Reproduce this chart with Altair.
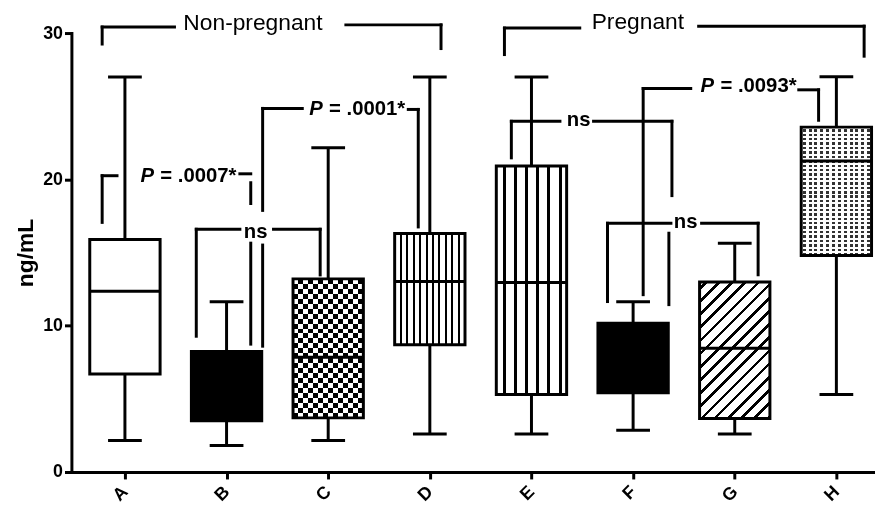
import json
import math
import altair as alt
import pandas as pd

# ---------------- data (ng/mL) ----------------
categories = ["A", "B", "C", "D", "E", "F", "G", "H"]
whisker_low = [2.15, 1.81, 2.15, 2.59, 2.59, 2.86, 2.59, 5.30]
box_low = [6.70, 3.50, 3.70, 8.69, 5.30, 5.42, 3.66, 14.80]
medians = [12.35, 5.80, 7.84, 13.02, 12.95, 7.80, 8.46, 21.26]
box_high = [15.89, 8.24, 13.20, 16.30, 20.92, 10.16, 12.98, 23.57]
whisker_high = [27.00, 11.63, 22.16, 27.00, 27.00, 11.63, 15.64, 27.02]

# annotation brackets (category position, ng/mL)
seg_x1 = [-0.224, -0.224, 2.174, 3.110, 3.734, 3.734, 5.645, 7.273,
          -0.224, -0.224, 1.131, 1.238, 1.238,
          0.702, 1.462, 0.702, 1.921,
          1.355, 1.355, 1.355, 2.788, 2.886,
          3.802, 3.802, 4.611, 5.382, 5.352,
          5.099, 5.099, 6.630, 6.825,
          4.748, 4.748, 5.674, 6.230]
seg_y1 = [30.41, 30.41, 30.56, 30.56, 30.34, 30.34, 30.47, 30.47,
          20.25, 20.25, 20.38, 19.77, 15.64,
          16.59, 16.59, 16.59, 16.59,
          24.85, 15.51, 24.85, 24.78, 24.78,
          23.97, 23.97, 23.97, 23.97, 16.32,
          26.21, 26.21, 26.12, 26.12,
          17.00, 17.00, 17.00, 17.00]
seg_x2 = [-0.224, 0.4875, 3.110, 3.110, 3.734, 4.475, 7.273, 7.273,
          -0.224, -0.078, 1.238, 1.238, 1.238,
          1.131, 1.921, 0.702, 1.921,
          1.355, 1.355, 1.745, 2.886, 2.886,
          3.802, 4.280, 5.382, 5.382, 5.352,
          5.099, 5.567, 6.825, 6.825,
          4.748, 5.372, 6.230, 6.230]
seg_y2 = [29.25, 30.41, 30.56, 28.94, 28.53, 30.34, 30.47, 28.42,
          17.06, 20.25, 20.38, 18.35, 8.74,
          16.59, 16.59, 9.28, 13.47,
          17.88, 8.60, 24.85, 24.78, 16.75,
          21.47, 23.97, 23.97, 18.89, 11.44,
          12.12, 26.21, 26.12, 24.04,
          11.65, 17.00, 17.00, 13.48]

group_labels = ["Non-pregnant", "Pregnant"]
group_x = [0.575, 4.592]
group_y = [30.18, 30.29]

stat_labels = ["= .0007*", "ns", "= .0001*", "ns", "ns", "= .0093*"]
stat_x = [0.348, 1.170, 2.008, 4.348, 5.401, 5.859]
stat_y = [19.81, 15.98, 24.43, 23.63, 16.66, 25.96]

p_labels = ["P", "P", "P"]
p_x = [0.153, 1.813, 5.664]
p_y = [19.81, 24.43, 25.96]

# ---------------- layout / style ----------------
FONT = "Liberation Sans"
X_DOMAIN = [-0.5265, 7.380]
PLOT_W, PLOT_H = 811, 443
PX_X = PLOT_W / (X_DOMAIN[1] - X_DOMAIN[0])
PX_Y = PLOT_H / 30.0
BOX_HALF = 0.346
CAP_HALF = 0.166
BOX_W = 2 * BOX_HALF * PX_X


def band_stops(bands, on, off):
    stops = [{"offset": 0, "color": off}]
    for s, e in bands:
        s = max(0.0, min(1.0, s))
        e = max(0.0, min(1.0, e))
        if e <= s:
            continue
        stops += [{"offset": s, "color": off}, {"offset": s, "color": on},
                  {"offset": e, "color": on}, {"offset": e, "color": off}]
    stops.append({"offset": 1, "color": off})
    return stops


def grad(stops, x2=1, y2=0):
    return {"gradient": "linear", "x1": 0, "y1": 0, "x2": x2, "y2": y2, "stops": stops}


def box_h(cat):
    i = categories.index(cat)
    return (box_high[i] - box_low[i]) * PX_Y


W = BOX_W
# C : checkerboard (vertical stripes + horizontal stripes with difference blend)
cw = W / 14
c_cols = grad(band_stops([((k * cw) / W, ((k + 1) * cw) / W) for k in range(1, 14, 2)], "black", "white"))
hC = box_h("C")
rowsC = max(1, round(hC / cw))
rh = hC / rowsC
c_rows = grad(band_stops([((k * rh) / hC, ((k + 1) * rh) / hC) for k in range(1, rowsC, 2)], "white", "black"), x2=0, y2=1)
# D : fine vertical lines
pD = W / 11
d_fill = grad(band_stops([((k * pD - 1.0) / W, (k * pD + 1.0) / W) for k in range(1, 11)], "black", "white"))
# E : coarse vertical lines
pE = W / 6.3
e_fill = grad(band_stops([((8 * W / 71 + k * pE - 1.5) / W, (8 * W / 71 + k * pE + 1.5) / W) for k in range(6)], "black", "white"))
# G : diagonal hatch "/"
hG = box_h("G")
L = (W + hG) / math.sqrt(2)
t = (W + hG) / (W * W + hG * hG)
g_bands = []
s = 4.7
while s < L + 2:
    g_bands.append(((s - 1.3) / L, (s + 1.3) / L))
    s += 9.4
g_fill = grad(band_stops(g_bands, "black", "white"), x2=t * W, y2=t * hG)
# H : fine dotted texture
pH = W / 12
h_cols = grad(band_stops([((k * pH + 1.5) / W, (k * pH + 4.5) / W) for k in range(12)], "#333333", "white"))
hH = box_h("H")
rowsH = max(1, round(hH / 4.5))
rhH = hH / rowsH
h_rows = grad(band_stops([((k * rhH) / hH, (k * rhH + 2.0) / hH) for k in range(rowsH)], "white", "rgba(255,255,255,0)"), x2=0, y2=1)

box_fills = {
    "A": "white", "B": "black", "C": c_cols, "D": d_fill,
    "E": e_fill, "F": "black", "G": g_fill, "H": h_cols,
}

# ---------------- scales / axes ----------------
xscale = alt.Scale(domain=X_DOMAIN, nice=False, zero=False)
yscale = alt.Scale(domain=[0, 30], nice=False, zero=True)
xaxis = alt.Axis(values=list(range(len(categories))),
                 labelExpr=json.dumps(categories) + "[datum.value]",
                 grid=False, domainColor="black", domainWidth=3, domainCap="square",
                 tickColor="black", tickWidth=3, tickSize=7,
                 labelAngle=-45, labelAlign="right", labelBaseline="middle",
                 labelFont=FONT, labelFontSize=18, labelFontWeight="bold", labelColor="black",
                 labelPadding=10, labelFlush=False, labelOverlap=False)
yaxis = alt.Axis(values=[0, 10, 20, 30], title="ng/mL", grid=False,
                 domainColor="black", domainWidth=3, domainCap="square",
                 tickColor="black", tickWidth=3, tickSize=7,
                 labelFont=FONT, labelFontSize=18, labelFontWeight="bold", labelColor="black",
                 labelPadding=2, labelFlush=False,
                 titleFont=FONT, titleFontSize=23, titleFontWeight="bold", titleColor="black",
                 titlePadding=5)


def X(f):
    return alt.X(f + ":Q", scale=xscale, axis=xaxis, title=None)


def Y(f):
    return alt.Y(f + ":Q", scale=yscale, axis=yaxis)


boxes = pd.DataFrame({"cat": categories, "pos": list(range(len(categories))),
                      "lo": whisker_low, "q1": box_low, "med": medians,
                      "q3": box_high, "hi": whisker_high})
segments = pd.DataFrame({"x1": seg_x1, "y1": seg_y1, "x2": seg_x2, "y2": seg_y2})
groups = pd.DataFrame({"x": group_x, "y": group_y, "label": group_labels})
stats = pd.DataFrame({"x": stat_x, "y": stat_y, "label": stat_labels})
ps = pd.DataFrame({"x": p_x, "y": p_y, "label": p_labels})

base = alt.Chart(boxes).transform_calculate(
    bl=f"datum.pos - {BOX_HALF}", br=f"datum.pos + {BOX_HALF}",
    cl=f"datum.pos - {CAP_HALF}", cr=f"datum.pos + {CAP_HALF}")

layers = []
layers.append(base.mark_rule(color="black", strokeWidth=3).encode(x=X("pos"), y=Y("lo"), y2="hi"))
layers.append(base.mark_rule(color="black", strokeWidth=3).encode(x=X("cl"), x2="cr", y=Y("lo")))
layers.append(base.mark_rule(color="black", strokeWidth=3).encode(x=X("cl"), x2="cr", y=Y("hi")))
for c in categories:
    layers.append(base.transform_filter(alt.datum.cat == c)
                  .mark_rect(fill=box_fills[c])
                  .encode(x=X("bl"), x2="br", y=Y("q1"), y2="q3"))
layers.append(base.transform_filter(alt.datum.cat == "C")
              .mark_rect(fill=c_rows, blend="difference")
              .encode(x=X("bl"), x2="br", y=Y("q1"), y2="q3"))
layers.append(base.transform_filter(alt.datum.cat == "H")
              .mark_rect(fill=h_rows)
              .encode(x=X("bl"), x2="br", y=Y("q1"), y2="q3"))
layers.append(base.mark_rect(fillOpacity=0, stroke="black", strokeWidth=3)
              .encode(x=X("bl"), x2="br", y=Y("q1"), y2="q3"))
layers.append(base.mark_rule(color="black", strokeWidth=3).encode(x=X("bl"), x2="br", y=Y("med")))
layers.append(alt.Chart(segments).mark_rule(color="black", strokeWidth=3, strokeCap="square")
              .encode(x=X("x1"), x2="x2", y=Y("y1"), y2="y2"))
layers.append(alt.Chart(groups).mark_text(align="left", baseline="alphabetic", font=FONT,
                                          fontSize=23, color="black")
              .encode(x=X("x"), y=Y("y"), text="label:N"))
layers.append(alt.Chart(stats).mark_text(align="left", baseline="alphabetic", font=FONT,
                                         fontSize=20.5, fontWeight="bold", color="black")
              .encode(x=X("x"), y=Y("y"), text="label:N"))
layers.append(alt.Chart(ps).mark_text(align="left", baseline="alphabetic", font=FONT,
                                      fontSize=20.5, fontWeight="bold", fontStyle="italic",
                                      color="black")
              .encode(x=X("x"), y=Y("y"), text="label:N"))

chart = alt.layer(*layers).properties(
    width=PLOT_W, height=PLOT_H,
    padding={"left": 64, "top": 23, "right": 0, "bottom": 30},
    autosize="none",
).configure_view(strokeWidth=0)

chart.save("out.html", embed_options={"renderer": "svg", "actions": False})
